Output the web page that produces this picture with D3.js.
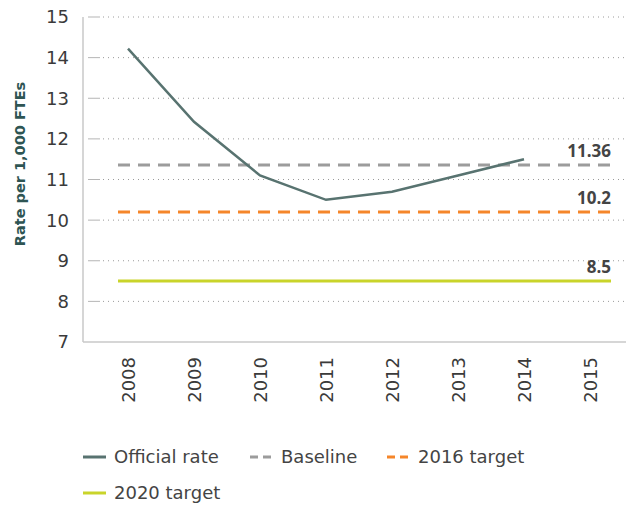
<!DOCTYPE html>
<html>
<head>
<meta charset="utf-8">
<script src="https://cdn.jsdelivr.net/npm/d3@7"></script>
<style>
  body { margin: 0; background: #fff; }
  svg { font-family: 'DejaVu Sans', sans-serif; }
  .tick-label { font-size: 18px; fill: #3a3a3a; }
  .end-label { font-family: 'Open Sans', sans-serif; font-size: 17px; font-weight: 700; fill: #444; }
  .legend-text { font-size: 18px; fill: #444; }
</style>
</head>
<body>
<div id="chart"></div>
<script>
const years = ['2008', '2009', '2010', '2011', '2012', '2013', '2014', '2015'];
const officialYears = ['2008', '2009', '2010', '2011', '2012', '2013', '2014'];
const officialRate = [14.22, 12.42, 11.1, 10.5, 10.7, 11.1, 11.5];
const baseline = 11.36;
const target2016 = 10.2;
const target2020 = 8.5;
const yTicks = [7, 8, 9, 10, 11, 12, 13, 14, 15];

const width = 627, height = 506;
const svg = d3.select('#chart').append('svg')
  .attr('width', width)
  .attr('height', height);

// Scales
const x = d3.scalePoint().domain(years).range([128, 590]);
const y = d3.scaleLinear().domain([7, 15]).range([342, 17]);
const left = 83, right = 626;
const lineStart = x('2008') - 10, lineEnd = x('2015') + 21;

// Grid lines
const grid = svg.append('g');
yTicks.forEach(v => {
  if (v === 7) return;
  grid.append('line')
    .attr('x1', 88).attr('x2', 100)
    .attr('y1', y(v)).attr('y2', y(v))
    .attr('stroke', '#b5b5b5').attr('stroke-width', 1);
  grid.append('line')
    .attr('x1', 103).attr('x2', right)
    .attr('y1', y(v)).attr('y2', y(v))
    .attr('stroke', '#9a9a9a').attr('stroke-width', 1)
    .attr('stroke-dasharray', '1,4');
});

// Axes lines
svg.append('line')
  .attr('x1', left).attr('x2', left)
  .attr('y1', y(15)).attr('y2', y(7))
  .attr('stroke', '#bbb').attr('stroke-width', 1.2);
svg.append('line')
  .attr('x1', left).attr('x2', right)
  .attr('y1', y(7)).attr('y2', y(7))
  .attr('stroke', '#c8c8c8').attr('stroke-width', 1.5);

// Y tick labels
svg.append('g').selectAll('text')
  .data(yTicks)
  .join('text')
  .attr('class', 'tick-label')
  .attr('x', 69)
  .attr('y', d => y(d))
  .attr('dy', '0.36em')
  .attr('text-anchor', 'end')
  .text(d => d);

// Y title
svg.append('text')
  .attr('transform', 'translate(25,' + 164 + ') rotate(-90)')
  .attr('text-anchor', 'middle')
  .attr('font-size', 14.5)
  .attr('font-weight', 700)
  .attr('fill', '#2e5553')
  .text('Rate per 1,000 FTEs');

// X tick labels
svg.append('g').selectAll('text')
  .data(years)
  .join('text')
  .attr('class', 'tick-label')
  .attr('transform', d => 'translate(' + (x(d) + 7) + ',357) rotate(-90)')
  .attr('text-anchor', 'end')
  .text(d => d);

// Reference lines
const refs = [
  { value: target2020, color: '#c9d42a', dash: null, label: '8.5' },
  { value: target2016, color: '#f5862a', dash: '12,8', label: '10.2' },
  { value: baseline, color: '#9c9c9c', dash: '12,8', label: '11.36' }
];
refs.forEach(r => {
  const l = svg.append('line')
    .attr('x1', lineStart).attr('x2', lineEnd)
    .attr('y1', y(r.value)).attr('y2', y(r.value))
    .attr('stroke', r.color).attr('stroke-width', 3);
  if (r.dash) l.attr('stroke-dasharray', r.dash);
  svg.append('text')
    .attr('class', 'end-label')
    .attr('x', lineEnd)
    .attr('y', y(r.value) - 8)
    .attr('text-anchor', 'end')
    .text(r.label);
});

// Official rate line
const line = d3.line()
  .x((d, i) => x(officialYears[i]))
  .y(d => y(d));
svg.append('path')
  .datum(officialRate)
  .attr('d', line)
  .attr('fill', 'none')
  .attr('stroke', '#587370')
  .attr('stroke-width', 2.5);

// Legend
const legendItems = [
  { label: 'Official rate', color: '#587370', dash: null, x: 83, y: 457 },
  { label: 'Baseline', color: '#9c9c9c', dash: '8,5', x: 250, y: 457 },
  { label: '2016 target', color: '#f5862a', dash: '8,5', x: 387, y: 457 },
  { label: '2020 target', color: '#c9d42a', dash: null, x: 83, y: 493 }
];
const legend = svg.append('g');
legendItems.forEach(it => {
  const l = legend.append('line')
    .attr('x1', it.x).attr('x2', it.x + 23)
    .attr('y1', it.y).attr('y2', it.y)
    .attr('stroke', it.color).attr('stroke-width', 3);
  if (it.dash) l.attr('stroke-dasharray', it.dash);
  legend.append('text')
    .attr('class', 'legend-text')
    .attr('x', it.x + 31)
    .attr('y', it.y)
    .attr('dy', '0.35em')
    .text(it.label);
});
</script>
</body>
</html>
